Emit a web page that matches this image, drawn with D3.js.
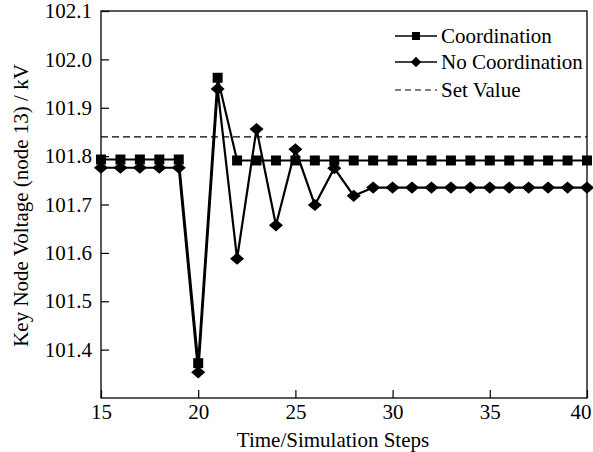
<!DOCTYPE html>
<html>
<head>
<meta charset="utf-8">
<script src="https://cdn.jsdelivr.net/npm/d3@7"></script>
<style>
  body { margin: 0; background: #fff; }
  text { font-family: "Liberation Serif", "Times New Roman", serif; fill: #000; }
</style>
</head>
<body>
<div id="chart"></div>
<script>
// data
var steps = d3.range(15, 41)
var coordination = [101.793, 101.793, 101.793, 101.793, 101.793, 101.372, 101.962, 101.791, 101.791, 101.791,
  101.791, 101.791, 101.791, 101.791, 101.791, 101.791, 101.791, 101.791, 101.791, 101.791,
  101.791, 101.791, 101.791, 101.791, 101.791, 101.791]
var noCoordination = [101.776, 101.776, 101.776, 101.776, 101.776, 101.353, 101.939, 101.588, 101.856, 101.657,
  101.814, 101.699, 101.775, 101.718, 101.735, 101.735, 101.735, 101.735, 101.735, 101.735,
  101.735, 101.735, 101.735, 101.735, 101.735, 101.735]
var setValue = 101.84
var xTicks = [15, 20, 25, 30, 35, 40]
var yTicks = [101.4, 101.5, 101.6, 101.7, 101.8, 101.9, 102.0, 102.1]

var margin = {top: 11, right: 6, bottom: 54, left: 101},
    width = 593 - margin.left - margin.right,
    height = 452 - margin.top - margin.bottom
var fontSize = "21px"

var svg = d3.select("#chart")
  .append("svg")
    .attr("width", 593)
    .attr("height", 452)
  .append("g")
    .attr("transform", "translate(" + margin.left + "," + margin.top + ")")

var x = d3.scaleLinear().domain([15, 40]).range([0, width])
var y = d3.scaleLinear().domain([101.3, 102.1]).range([height, 0])

// axes with inward ticks
var xAxis = svg.append("g")
  .attr("transform", "translate(0," + height + ")")
  .call(d3.axisBottom(x).tickValues(xTicks).tickSize(-8).tickPadding(6).tickFormat(d3.format("d")))
xAxis.select(".domain").remove()
xAxis.selectAll("line").attr("stroke-width", 1.2)
xAxis.selectAll("text").style("font-size", fontSize)
// last label sits just inside the page edge
xAxis.selectAll("text").filter(function(d) { return d === 40 })
  .attr("text-anchor", "end").attr("x", 4)

var yAxis = svg.append("g")
  .call(d3.axisLeft(y).tickValues(yTicks).tickSize(-8).tickPadding(9).tickFormat(d3.format(".1f")))
yAxis.select(".domain").remove()
yAxis.selectAll("line").attr("stroke-width", 1.2)
yAxis.selectAll("text").style("font-size", fontSize)

// frame
svg.append("rect")
  .attr("width", width)
  .attr("height", height)
  .attr("fill", "none")
  .attr("stroke", "#000")
  .attr("stroke-width", 1.3)

// set value
svg.append("line")
  .attr("x1", 0).attr("x2", width)
  .attr("y1", y(setValue)).attr("y2", y(setValue))
  .attr("stroke", "#000")
  .attr("stroke-width", 1.2)
  .attr("stroke-dasharray", "7,4")

var line = d3.line()
  .x(function(d, i) { return x(steps[i]) })
  .y(function(d) { return y(d) })

svg.append("path").datum(noCoordination)
  .attr("d", line).attr("fill", "none").attr("stroke", "#000").attr("stroke-width", 2.2)
svg.append("path").datum(coordination)
  .attr("d", line).attr("fill", "none").attr("stroke", "#000").attr("stroke-width", 2.2)

var diamond = d3.symbol().type(d3.symbolDiamond2).size(95)
var square = d3.symbol().type(d3.symbolSquare).size(100)

svg.selectAll(".nc").data(noCoordination).enter()
  .append("path")
    .attr("class", "nc")
    .attr("d", diamond)
    .attr("transform", function(d, i) { return "translate(" + x(steps[i]) + "," + y(d) + ") scale(1.15,1)" })
    .attr("fill", "#000")

svg.selectAll(".co").data(coordination).enter()
  .append("path")
    .attr("class", "co")
    .attr("d", square)
    .attr("transform", function(d, i) { return "translate(" + x(steps[i]) + "," + y(d) + ")" })
    .attr("fill", "#000")

// axis titles
svg.append("text")
  .attr("x", width / 2 - 11)
  .attr("y", height + 49)
  .attr("text-anchor", "middle")
  .style("font-size", fontSize)
  .text("Time/Simulation Steps")

svg.append("text")
  .attr("transform", "translate(" + (-73) + "," + (height / 2 + 1) + ") rotate(-90)")
  .attr("text-anchor", "middle")
  .style("font-size", fontSize)
  .text("Key Node Voltage (node 13) / kV")

// legend
var legend = svg.append("g").attr("transform", "translate(294,0)")
var rows = [{name: "Coordination", sym: "square", y: 25},
            {name: "No Coordination", sym: "diamond", y: 51},
            {name: "Set Value", sym: null, y: 79}]
rows.forEach(function(r) {
  legend.append("line")
    .attr("x1", 0).attr("x2", 42)
    .attr("y1", r.y).attr("y2", r.y)
    .attr("stroke", "#000")
    .attr("stroke-width", r.sym ? 1.5 : 1.2)
    .attr("stroke-dasharray", r.sym ? null : "6,4")
  if (r.sym) {
    legend.append("path")
      .attr("d", r.sym === "square" ? d3.symbol().type(d3.symbolSquare).size(64) : d3.symbol().type(d3.symbolDiamond2).size(70))
      .attr("transform", "translate(21," + r.y + ")")
      .attr("fill", "#000")
  }
  legend.append("text")
    .attr("x", 46)
    .attr("y", r.y)
    .attr("dy", "0.35em")
    .style("font-size", fontSize)
    .text(r.name)
})
</script>
</body>
</html>
